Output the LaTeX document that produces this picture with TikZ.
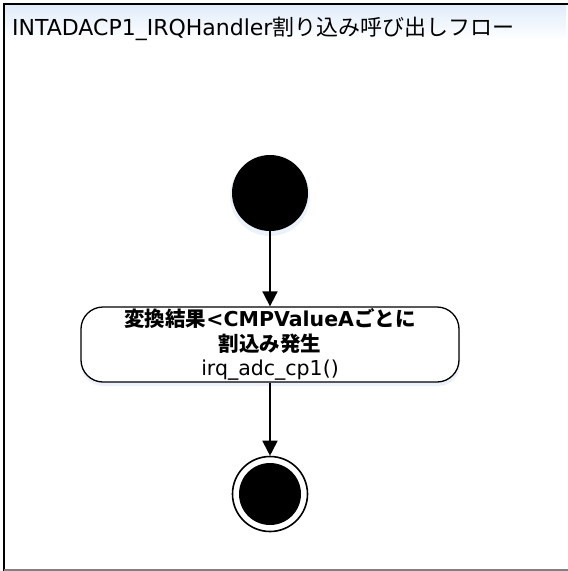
\documentclass[tikz,border=0pt]{standalone}
\usepackage{fontspec}
\setmainfont{DejaVu Sans}
\newfontfamily\jp{Noto Sans CJK JP}
\usetikzlibrary{arrows.meta}
\begin{document}
\begin{tikzpicture}[x=1pt,y=-1pt,
  flow/.style={draw=black, line width=1.8pt, -{Triangle[length=15pt,width=15pt]}},
  actbox/.style={draw=black, fill=white, line width=1.3pt, rounded corners=22pt,
    minimum width=378pt, minimum height=75pt, inner sep=0pt, align=center,
    font=\fontsize{20.5}{24.5}\selectfont},
  glow/.style={fill={rgb,255:red,222;green,234;blue,248}}
]
\useasboundingbox (0,0) rectangle (568,571);
\fill[white] (0,0) rectangle (568,571);
% title band glow
\shade[top color={rgb,255:red,225;green,236;blue,250}, bottom color=white] (5,5) rectangle (566,40);
% frame
\draw[line width=2pt] (4,571) -- (4,4) -- (568,4);
\draw[line width=2pt, gray] (4,569.5) -- (568,569.5);
\node[anchor=base west, inner sep=0pt, font=\fontsize{22}{26}\selectfont] (title) at (12,35)
  {INTADACP1\_IRQHandler{\jp 割り込み呼び出しフロー}};
% glows
\fill[glow, opacity=0.6] (270,196) circle (40);
\fill[glow, opacity=0.6] (81,310) [rounded corners=22pt] rectangle (460,386);
% nodes
\node[circle, fill=black, minimum size=76pt, inner sep=0pt] (start) at (270,193) {};
\node[actbox] (act) at (270,344.5) {%
  \bfseries{\jp 変換結果}<CMPValueA{\jp ごとに}\\
  \bfseries{\jp 割込み発生}\\
  irq\_adc\_cp1()};
\node[circle, draw=black, fill=white, line width=1.6pt, minimum size=75pt, inner sep=0pt] (final) at (270,494) {};
\node[circle, fill=black, minimum size=62pt, inner sep=0pt] (finaldot) at (final) {};
% connectors
\draw[flow] (start) -- (act);
\draw[flow] (act) -- (final);
\end{tikzpicture}
\end{document}
